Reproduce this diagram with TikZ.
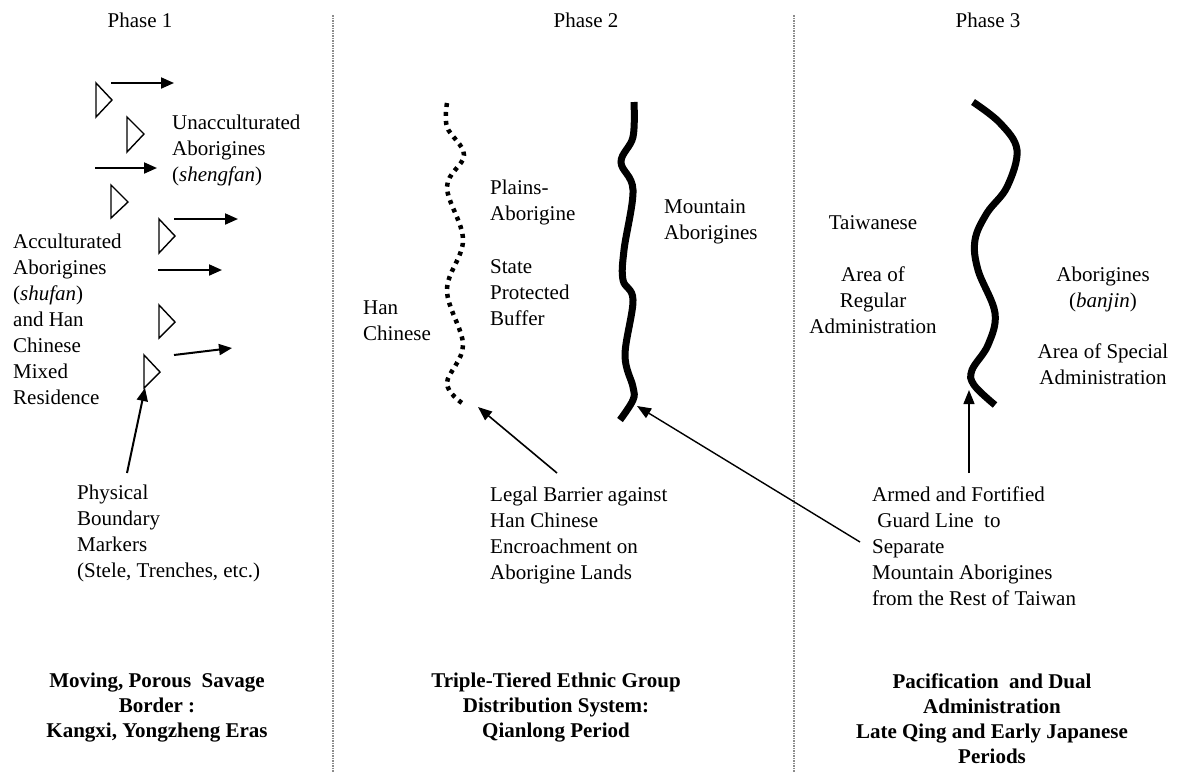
\documentclass[tikz,border=0pt]{standalone}
\usepackage{fontspec}
\setmainfont{Liberation Serif}
\usetikzlibrary{arrows.meta}
\begin{document}
\begin{tikzpicture}[x=1pt,y=-1pt,
  txt/.style={inner sep=0pt, font=\fontsize{21}{26}\selectfont, align=left, anchor=north west},
  ctxt/.style={inner sep=0pt, font=\fontsize{21}{26}\selectfont, align=center, anchor=north},
  btxt/.style={inner sep=0pt, font=\fontsize{21}{25}\selectfont\bfseries, align=center, anchor=north},
  divider/.style={draw=black!45, line width=1.6pt, dash pattern=on 1.5pt off 1pt},
  tri/.style={draw=black, line width=1.4pt, fill=white, line join=miter},
  movearrow/.style={draw=black, line width=2pt, -{Triangle[length=13pt,width=11pt]}},
  callout/.style={draw=black, line width=1.6pt, -{Triangle[length=14pt,width=11pt]}},
  barrier/.style={draw=black, line width=7pt, line cap=butt},
  dotbarrier/.style={draw=black, line width=4.5pt, dash pattern=on 4pt off 5pt},
]
\useasboundingbox (0,0) rectangle (1180,772);
\fill[white] (0,0) rectangle (1180,772);

% dividers
\coordinate (d1t) at (333,15); \coordinate (d1b) at (333,772);
\coordinate (d2t) at (794,15); \coordinate (d2b) at (794,772);
\draw[divider] (d1t) -- (d1b);
\draw[divider] (d2t) -- (d2b);

% titles
\node[ctxt] (ph1) at (140,13) {Phase 1};
\node[ctxt] (ph2) at (586,13) {Phase 2};
\node[ctxt] (ph3) at (988,13) {Phase 3};

% ---------------- Phase 1 ----------------
\draw[tri] (96,83) -- (112,100) -- (96,117) -- cycle;
\draw[tri] (127,117) -- (144,134) -- (127,152) -- cycle;
\draw[tri] (111,185) -- (128,202) -- (111,218) -- cycle;
\draw[tri] (159,219) -- (175,236) -- (159,253) -- cycle;
\draw[tri] (159,305) -- (175,322) -- (159,338) -- cycle;
\draw[tri] (144,355) -- (160,372) -- (144,388) -- cycle;

\coordinate (a1s) at (111,83);  \coordinate (a1e) at (174,83);
\coordinate (a2s) at (95,168);  \coordinate (a2e) at (157,168);
\coordinate (a3s) at (174,219); \coordinate (a3e) at (238,219);
\coordinate (a4s) at (158,270); \coordinate (a4e) at (222,270);
\coordinate (a5s) at (174,355); \coordinate (a5e) at (232,348);
\draw[movearrow] (a1s) -- (a1e);
\draw[movearrow] (a2s) -- (a2e);
\draw[movearrow] (a3s) -- (a3e);
\draw[movearrow] (a4s) -- (a4e);
\draw[movearrow] (a5s) -- (a5e);

\node[txt] (unac) at (172,115) {Unacculturated\\Aborigines\\(\textit{shengfan})};
\node[txt] (accu) at (13,234) {Acculturated\\Aborigines\\(\textit{shufan})\\and Han\\Chinese\\Mixed\\Residence};
\node[txt] (phys) at (77,485) {Physical\\Boundary\\Markers\\(Stele, Trenches, etc.)};
\coordinate (physs) at (127,473);
\coordinate (mark6) at (145,388);
\draw[movearrow] (physs) -- (mark6);

\node[btxt] (cap1) at (157,673) {Moving, Porous\ \ Savage\\Border :\\Kangxi, Yongzheng Eras};

% ---------------- Phase 2 ----------------
\draw[dotbarrier] plot[smooth, tension=0.6] coordinates {(447,103) (447,127) (464,155) (447,187) (463,240) (447,290) (463,345) (447,383) (462,403)};
\coordinate (dotend) at (478,407);
\draw[barrier] plot[smooth, tension=0.6] coordinates {(634,102) (633,137) (621,162) (633,190) (624,250) (623,280) (633,300) (625,355) (633,387) (633,400) (620,420)};
\coordinate (mtnend) at (637,406);

\node[txt] (plains) at (490,180) {Plains-\\Aborigine};
\node[txt] (state) at (490,259) {State\\Protected\\Buffer};
\node[txt] (han) at (363,301) {Han\\Chinese};
\node[txt] (mtn) at (664,199) {Mountain\\Aborigines};
\node[txt] (legal) at (490,487) {Legal Barrier against\\Han Chinese\\Encroachment on\\Aborigine Lands};
\coordinate (legals) at (557,473);
\draw[callout] (legals) -- (dotend);

\node[btxt] (cap2) at (556,673) {Triple-Tiered Ethnic Group\\Distribution System:\\Qianlong Period};

% ---------------- Phase 3 ----------------
\draw[barrier] plot[smooth, tension=0.6] coordinates {(973,102) (1000,123) (1017,150) (1007,187) (987,213) (975,240) (978,270) (995,313) (988,345) (972,370) (974,385) (995,405)};
\coordinate (guardend) at (969,390);

\node[ctxt] (taiw) at (873,215) {Taiwanese};
\node[ctxt] (reg) at (873,267) {Area of\\Regular\\Administration};
\node[ctxt] (abor) at (1103,267) {Aborigines\\(\textit{banjin})};
\node[ctxt] (spec) at (1103,344) {Area of Special\\Administration};
\node[txt] (armed) at (872,487) {Armed and Fortified\\\ Guard Line\ \ to\\Separate\\Mountain Aborigines\\from the Rest of Taiwan};
\coordinate (armeds) at (969,473);
\coordinate (armeds2) at (860,542);
\draw[callout, line width=1.4pt] (armeds) -- (guardend);
\draw[callout, line width=1.4pt] (armeds2) -- (mtnend);

\node[btxt] (cap3) at (992,673) {Pacification\ \ and Dual\\Administration\\Late Qing and Early Japanese\\Periods};
\end{tikzpicture}
\end{document}
